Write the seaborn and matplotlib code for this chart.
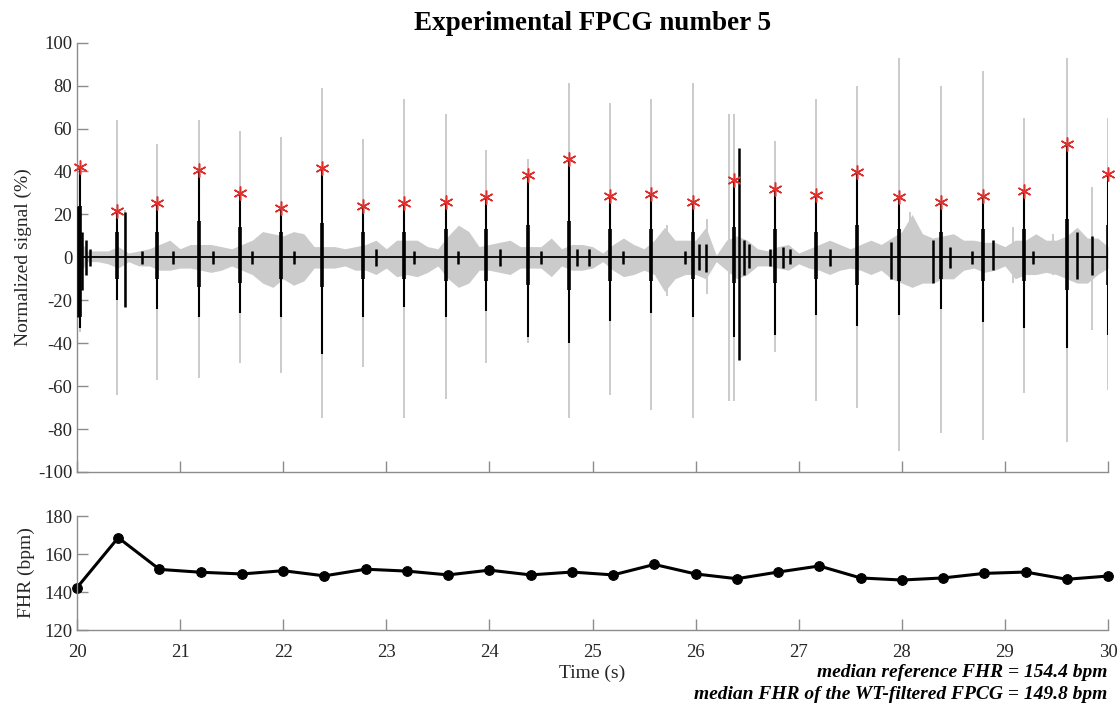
import numpy as np
import pandas as pd
import matplotlib
matplotlib.use("Agg")
import matplotlib.pyplot as plt
import seaborn as sns

# beat peaks (red asterisks) and spike extents
beat_times = [20.03, 20.39, 20.78, 21.18, 21.58, 21.98, 22.38, 22.77, 23.17, 23.58,
              23.97, 24.37, 24.77, 25.17, 25.57, 25.97, 26.37, 26.77, 27.17, 27.57,
              27.97, 28.38, 28.79, 29.19, 29.60, 30.00]
peak_vals = [42, 21.5, 25.5, 40.5, 30, 23, 41.5, 24, 25.5, 26,
             28.3, 38.5, 46, 28.7, 29.5, 26, 36, 31.8, 29, 39.6,
             28.3, 26, 28.7, 31, 52.8, 38.8]
black_lo = [-33, -20, -24, -28, -26, -28, -45, -28, -23, -28,
            -25, -37, -40, -29.5, -26, -28, -37, -36, -27, -32,
            -27, -24, -30, -33, -42, -36]
core_hi = [24, 12, 12, 17, 14, 12, 16, 12, 12, 13,
           13, 15, 17, 13, 13, 12, 14, 13, 12, 15,
           13, 12, 13, 13, 18, 15]
core_lo = [-28, -10, -10, -14, -12, -10, -14, -10, -10, -11,
           -11, -13, -15, -11, -11, -10, -12, -12, -10, -13,
           -11, -10, -11, -11, -15, -13]
gray_hi = [42, 64, 53, 64, 59, 56, 79, 55, 74, 67,
           50, 46, 81, 72, 74, 81, 67, 54, 74, 80,
           93, 80, 87, 65, 93, 65]
gray_lo = [-35, -64, -57, -56, -49, -54, -75, -51, -75, -66,
           -49, -40, -75, -64, -71, -75, -67, -44, -67, -70,
           -90, -82, -85, -63, -86, -62]

# extra spikes between beats
extra_gray_t = [20.47, 25.72, 26.11, 26.32, 28.08, 29.08, 29.47, 29.84]
extra_gray_hi = [22, 15, 18, 67, 21, 14, 11, 33]
extra_gray_lo = [-23, -18, -17, -67, -9, -12, -8, -34]

extra_black_t = [20.01, 20.05, 20.09, 20.13, 20.47, 20.63, 20.93, 21.32, 21.7, 22.1,
                 22.9, 23.27, 23.7, 24.1, 24.5, 24.85, 24.97, 25.3, 25.9,
                 26.03, 26.1, 26.42, 26.47, 26.52, 26.72, 26.85, 26.92, 27.3,
                 27.9, 28.3, 28.47, 28.68, 28.88, 29.27, 29.7, 29.84]
extra_black_hi = [24, 12, 8, 4, 21, 3, 3, 3, 3, 3,
                  4, 3, 3, 4, 3, 4, 4, 3, 3,
                  6, 6, 50.8, 8, 6, 4, 5, 4, 4,
                  7, 8, 5, 3, 8, 3, 12, 10]
extra_black_lo = [-28, -15, -8, -4, -23, -3, -3, -3, -3, -3,
                  -4, -3, -3, -4, -3, -4, -4, -3, -3,
                  -6, -7, -47.8, -8, -5, -4, -5, -3, -4,
                  -10, -12, -5, -3, -6, -3, -10, -8]

# background noise envelope of the raw signal, every 0.1 s from 20 to 30
noise_t = np.round(np.arange(20.0, 30.05, 0.1), 1)
noise_hi = [10, 3, 3, 3, 5, 2, 3, 4, 6, 8,
            4, 6, 6, 6, 5, 4, 6, 8, 12, 11,
            10, 12, 11, 5, 5, 5, 4, 5, 6, 8,
            4, 8, 8, 8, 5, 4, 10, 15, 12, 5,
            6, 7, 8, 5, 5, 5, 9, 4, 6, 6,
            5, 2, 6, 9, 6, 4, 8, 14, 8, 8,
            8, 14, 1, 8, 10, 8, 4, 3, 5, 6,
            2, 4, 6, 8, 6, 4, 6, 8, 6, 9,
            12, 20, 11, 9, 10, 11, 8, 8, 7, 7,
            5, 8, 8, 11, 8, 8, 10, 14, 9, 9,
            5]
noise_lo = [-10, -2, -2, -3, -5, -2, -4, -4, -6, -6,
            -5, -5, -6, -7, -6, -4, -6, -8, -12, -14,
            -10, -13, -11, -5, -5, -5, -4, -6, -6, -8,
            -5, -9, -8, -9, -7, -4, -10, -14, -12, -6,
            -6, -7, -8, -5, -5, -5, -9, -4, -6, -6,
            -5, -2, -6, -9, -8, -6, -8, -16, -10, -8,
            -8, -10, -2, -6, -10, -8, -4, -4, -5, -6,
            -3, -5, -6, -8, -6, -5, -6, -8, -6, -10,
            -12, -14, -12, -12, -10, -10, -6, -5, -7, -6,
            -4, -10, -8, -8, -7, -8, -10, -12, -12, -8,
            -5]

# fetal heart rate per beat
fhr_times = [20.0, 20.4, 20.8, 21.2, 21.6, 22.0, 22.4, 22.8, 23.2, 23.6,
             24.0, 24.4, 24.8, 25.2, 25.6, 26.0, 26.4, 26.8, 27.2, 27.6,
             28.0, 28.4, 28.8, 29.2, 29.6, 30.0]
fhr_vals = [142.3, 168.6, 151.9, 150.4, 149.5, 151.2, 148.5, 152, 151, 149,
            151.5, 149, 150.5, 149, 154.5, 149.5, 147, 150.5, 153.7, 147.4,
            146.3, 147.4, 149.8, 150.5, 146.7, 148.4]

GRAY = "#cbcbcb"
AXIS = "#8c8c8c"
TEXT = "#262626"

sns.set_style("ticks")
plt.rcParams["font.family"] = ["Liberation Serif", "DejaVu Serif"]
plt.rcParams["axes.unicode_minus"] = False
plt.rcParams["xtick.direction"] = "in"
plt.rcParams["ytick.direction"] = "in"

fig = plt.figure(figsize=(11.2, 7.04), dpi=100)
ax1 = fig.add_axes([0.06875, 0.32955, 0.92054, 0.60980])
ax2 = fig.add_axes([0.06875, 0.10511, 0.92054, 0.16193])

# raw signal (gray)
ax1.fill_between(noise_t, noise_lo, noise_hi, color=GRAY, lw=0, zorder=1)
ax1.vlines(beat_times, gray_lo, gray_hi, color=GRAY, lw=1.4, zorder=1)
ax1.vlines(extra_gray_t, extra_gray_lo, extra_gray_hi, color=GRAY, lw=1.4, zorder=1)

# WT-filtered signal (black)
ax1.axhline(0, color="black", lw=1.3, zorder=2)
ax1.vlines(beat_times, black_lo, peak_vals, color="black", lw=1.5, zorder=3)
ax1.vlines(beat_times, core_lo, core_hi, color="black", lw=2.6, zorder=3)
ax1.vlines(extra_black_t, extra_black_lo, extra_black_hi, color="black", lw=1.8, zorder=3)

peaks = pd.DataFrame({"t": beat_times, "v": peak_vals})
ax1.plot(peaks["t"], peaks["v"], linestyle="none", marker=(6, 2, 0), markersize=10,
         markeredgewidth=1.1, color="#e0302e", zorder=4, clip_on=False)

ax1.set_xlim(20, 30)
ax1.set_ylim(-100, 100)
ax1.set_xticks(range(20, 31))
ax1.set_xticklabels([])
ax1.set_yticks(range(-100, 101, 20))
ax1.set_ylabel("Normalized signal (%)", fontsize=14, color=TEXT)
ax1.yaxis.set_label_coords(-0.0436, 0.5)
ax1.set_title("Experimental FPCG number 5", fontsize=19.5, fontweight="bold", color="black", pad=9)

fhr = pd.DataFrame({"t": fhr_times, "fhr": fhr_vals})
sns.lineplot(data=fhr, x="t", y="fhr", ax=ax2, color="black", lw=2.2, marker="o",
             markersize=7, markeredgecolor="black", clip_on=False)
ax2.set_xlim(20, 30)
ax2.set_ylim(120, 180)
ax2.set_xticks(range(20, 31))
ax2.set_yticks(range(120, 181, 20))
ax2.set_xlabel("Time (s)", fontsize=14, color=TEXT)
ax2.xaxis.set_label_coords(0.5, -0.30)
ax2.set_ylabel("FHR (bpm)", fontsize=14, color=TEXT)
ax2.yaxis.set_label_coords(-0.0407, 0.5)

for ax in (ax1, ax2):
    sns.despine(ax=ax)
    for s in ("left", "bottom"):
        ax.spines[s].set_color(AXIS)
        ax.spines[s].set_linewidth(1.0)
    ax.tick_params(length=8, width=1.0, color=AXIS, labelcolor=TEXT, labelsize=13.5)
ax2.tick_params(axis="x", pad=10)

fig.text(0.9884, 0.0384, "median reference FHR = 154.4 bpm", ha="right", va="baseline",
         fontsize=14, fontweight="bold", fontstyle="italic", color="black")
fig.text(0.9884, 0.0071, "median FHR of the WT-filtered FPCG = 149.8 bpm", ha="right", va="baseline",
         fontsize=14, fontweight="bold", fontstyle="italic", color="black")

fig.savefig("out.png", dpi=100)
